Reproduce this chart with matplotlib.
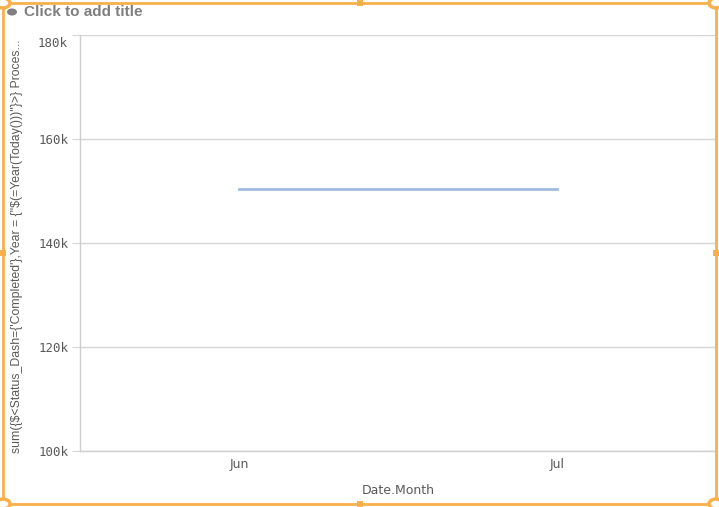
import matplotlib.pyplot as plt
import matplotlib.transforms as mtransforms
from matplotlib.patches import Rectangle, Circle
from matplotlib.ticker import FuncFormatter

# Datos
months = ['Jun', 'Jul']
values = [150400, 150400]
y_ticks = [100000, 120000, 140000, 160000, 180000]

y_label = 'sum({$<Status_Dash={\'Completed\'},Year = {"$(=Year(Today()))"}>} Proces...'

fig = plt.figure(figsize=(7.19, 5.07), dpi=100)
ax = fig.add_axes([80 / 719, 1 - 451 / 507, 636 / 719, 416 / 507])

x = list(range(len(months)))
ax.plot(x, values, color='#9fbcdc', linewidth=2)

ax.set_xlim(-0.5, len(months) - 0.5)
ax.set_ylim(100000, 180000)
ax.set_yticks(y_ticks)
fmt = lambda v, p: f'{int(v / 1000)}k'
# la etiqueta superior se dibuja aparte, un poco más abajo (como en Qlik)
ax.yaxis.set_major_formatter(FuncFormatter(lambda v, p: '' if v == y_ticks[-1] else fmt(v, p)))
ax.set_xticks(x)
ax.set_xticklabels(months)

ax.grid(axis='y', color='#d6d6d6', linewidth=1)
ax.set_axisbelow(True)
for s in ['top', 'right']:
    ax.spines[s].set_visible(False)
for s in ['left', 'bottom']:
    ax.spines[s].set_color('#cfcfcf')
    ax.spines[s].set_linewidth(1)

ax.tick_params(axis='y', length=6, color='#d6d6d6', pad=2, labelcolor='#595959')
ax.tick_params(axis='x', length=0, pad=5, labelcolor='#595959', labelsize=9)
for lbl in ax.get_yticklabels():
    lbl.set_fontfamily('DejaVu Sans Mono')
    lbl.set_fontsize(9)

trans = mtransforms.blended_transform_factory(ax.transAxes, ax.transData)
trans = trans + mtransforms.ScaledTranslation(-12 / 100, -9 / 100, fig.dpi_scale_trans)
ax.text(0, y_ticks[-1], fmt(y_ticks[-1], None), transform=trans, ha='right', va='center',
        fontsize=9, family='DejaVu Sans Mono', color='#595959')

fig.text(398 / 719, 1 - 491 / 507, 'Date.Month', ha='center', va='center',
         fontsize=9, color='#595959')
fig.text(17 / 719, 1 - 246 / 507, y_label, rotation=90, ha='center', va='center',
         fontsize=8.8, family=['Liberation Sans', 'DejaVu Sans'], color='#595959',
         parse_math=False)

# Título
fig.text(24 / 719, 1 - 12 / 507, 'Click to add title', ha='left', va='center',
         fontsize=11, fontweight='bold', family=['Liberation Sans', 'DejaVu Sans'],
         color='#7f7f7f')
fig.patches.append(Circle((12 / 719, 1 - 12 / 507), 5 / 719, transform=fig.transFigure,
                          facecolor='#7f7f7f', edgecolor='none'))

# Marco de selección naranja
orange = '#f8b04c'
fig.patches.append(Rectangle((3 / 719, 3 / 507), 713 / 719, 501 / 507, transform=fig.transFigure,
                             fill=False, edgecolor=orange, linewidth=2))
for cx, cy in [(3, 3), (716, 3), (3, 504), (716, 504)]:
    fig.patches.append(Circle((cx / 719, 1 - cy / 507), 7 / 719, transform=fig.transFigure,
                              facecolor='white', edgecolor=orange, linewidth=2.5))
for cx, cy in [(360, 3), (360, 504), (3, 253), (716, 253)]:
    fig.patches.append(Rectangle(((cx - 3) / 719, 1 - (cy + 3) / 507), 6 / 719, 6 / 507,
                                 transform=fig.transFigure, facecolor=orange, edgecolor='none'))

fig.savefig('out.png', dpi=100)
